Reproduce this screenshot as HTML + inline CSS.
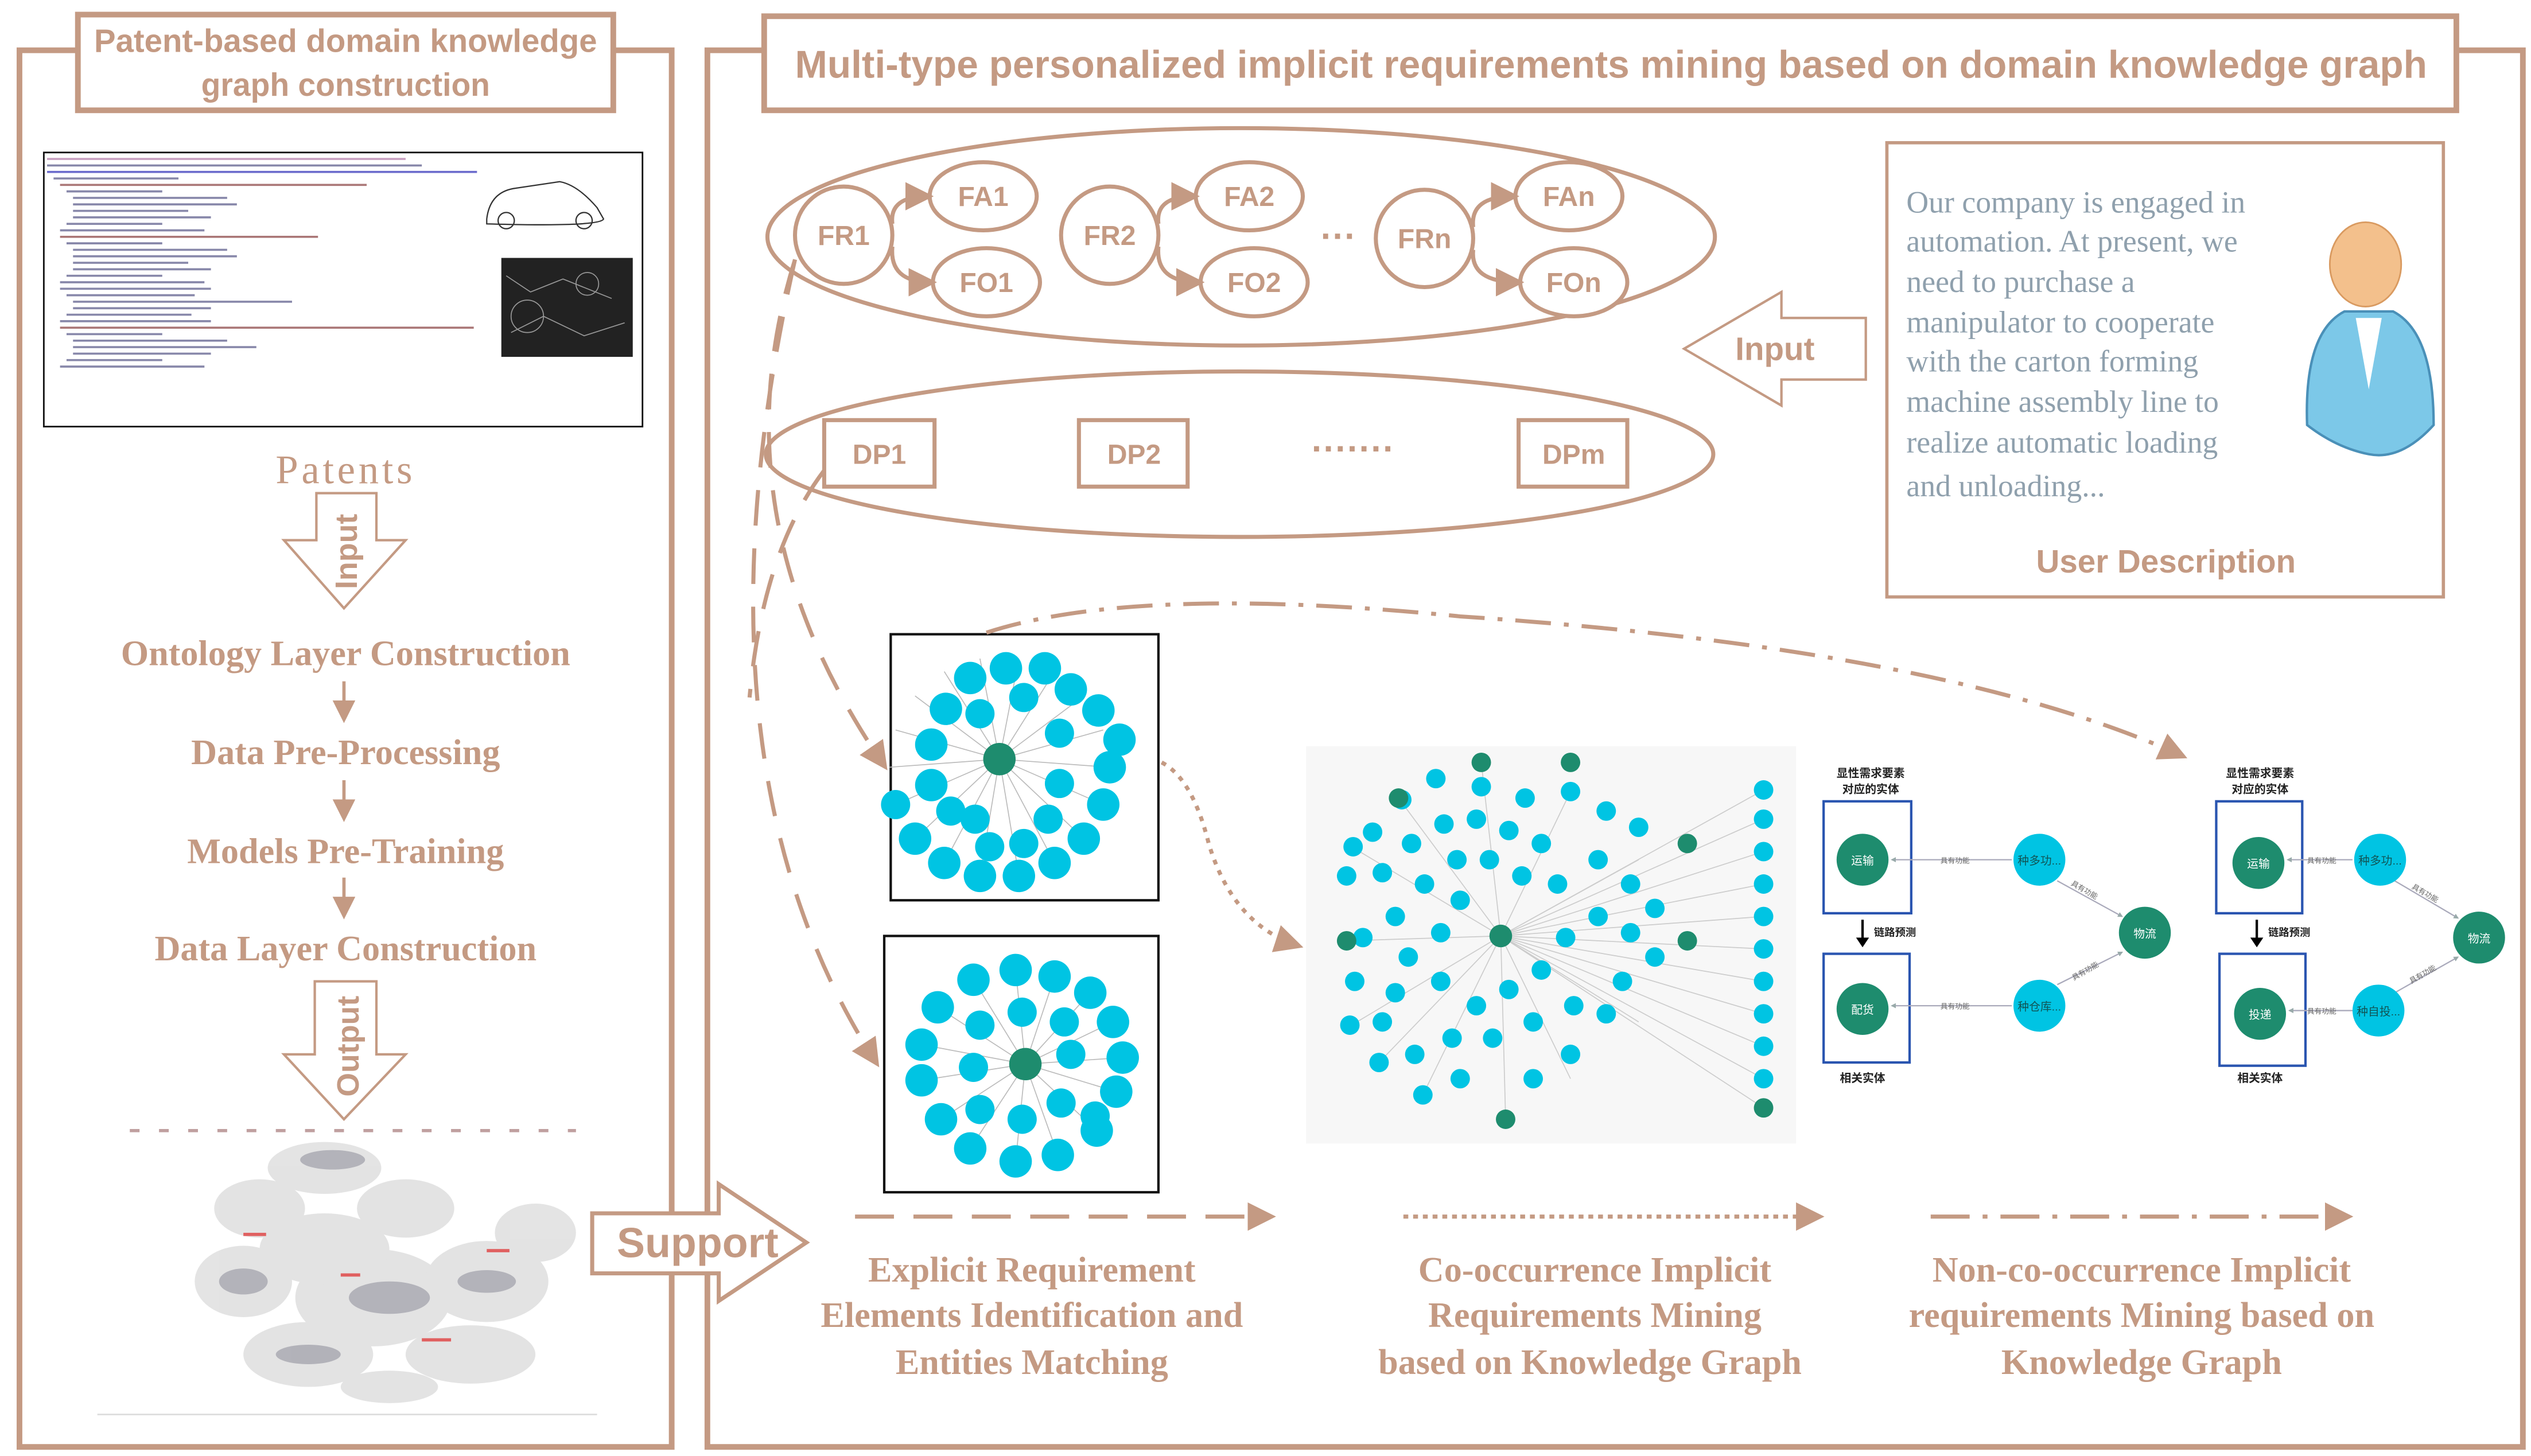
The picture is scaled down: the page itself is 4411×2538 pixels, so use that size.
<!DOCTYPE html>
<html><head><meta charset="utf-8"><style>
html,body{margin:0;padding:0;background:#fff}
svg{display:block}
.b{fill:none;stroke:#c49a83}
.w{fill:#fff !important}
.tt{font-family:"Liberation Sans Narrow","Liberation Sans",sans-serif;font-weight:bold;fill:#c49a83}
.sf{font-family:"Liberation Serif",serif;font-weight:bold;fill:#c49a83}
.cy{fill:#00c4e3}
.gr{fill:#1e8c6e}
.cn{font-family:"Liberation Sans","Noto Sans CJK SC",sans-serif}
</style></head><body>
<svg width="4411" height="2538" viewBox="0 0 1560 897.6" xmlns="http://www.w3.org/2000/svg">
<defs>
<marker id="ah" viewBox="0 0 10 10" refX="8" refY="5" markerWidth="7" markerHeight="7" orient="auto"><path d="M0,0L10,5L0,10z" fill="#c49a83"/></marker>
<marker id="ga" viewBox="0 0 10 10" refX="8" refY="5" markerWidth="4" markerHeight="4" orient="auto"><path d="M0,0L10,5L0,10z" fill="#9aa"/></marker>
</defs>
<!-- LEFT PANEL -->
<rect x="12" y="31" width="402" height="861" class="b" stroke-width="3.5"/>
<rect x="48" y="9" width="330" height="59" class="b w" stroke-width="3.5"/>
<text x="58" y="32" class="tt" font-size="20" textLength="310" lengthAdjust="spacingAndGlyphs">Patent-based domain knowledge</text>
<text x="124" y="59" class="tt" font-size="20" textLength="178" lengthAdjust="spacingAndGlyphs">graph construction</text>
<!-- xml image -->
<rect x="27" y="94" width="369" height="169" fill="#fff" stroke="#111" stroke-width="1"/>
<g stroke="#8888aa" stroke-width="1.3">
<line x1="29" y1="98" x2="250" y2="98" stroke="#c8a0c0"/><line x1="29" y1="102" x2="260" y2="102"/><line x1="29" y1="106" x2="294" y2="106" stroke="#6a6acc"/>
<line x1="33" y1="110" x2="110" y2="110"/><line x1="37" y1="114" x2="226" y2="114" stroke="#aa7777"/><line x1="41" y1="118" x2="100" y2="118"/>
<line x1="45" y1="122" x2="140" y2="122"/><line x1="45" y1="126" x2="146" y2="126"/><line x1="45" y1="130" x2="116" y2="130"/><line x1="45" y1="134" x2="130" y2="134"/>
<line x1="41" y1="138" x2="100" y2="138"/><line x1="37" y1="142" x2="126" y2="142"/><line x1="37" y1="146" x2="196" y2="146" stroke="#aa7777"/>
<line x1="41" y1="150" x2="100" y2="150"/><line x1="45" y1="154" x2="140" y2="154"/><line x1="45" y1="158" x2="146" y2="158"/><line x1="45" y1="162" x2="116" y2="162"/><line x1="45" y1="166" x2="130" y2="166"/>
<line x1="41" y1="170" x2="100" y2="170"/><line x1="37" y1="174" x2="126" y2="174"/><line x1="37" y1="178" x2="130" y2="178"/><line x1="41" y1="182" x2="120" y2="182"/>
<line x1="45" y1="186" x2="180" y2="186"/><line x1="45" y1="190" x2="130" y2="190"/><line x1="41" y1="194" x2="118" y2="194"/><line x1="37" y1="198" x2="130" y2="198"/>
<line x1="37" y1="202" x2="292" y2="202" stroke="#aa7777"/><line x1="41" y1="206" x2="100" y2="206"/><line x1="45" y1="210" x2="140" y2="210"/><line x1="45" y1="214" x2="158" y2="214"/>
<line x1="45" y1="218" x2="130" y2="218"/><line x1="41" y1="222" x2="100" y2="222"/><line x1="37" y1="226" x2="126" y2="226"/>
</g>
<g fill="none" stroke="#333" stroke-width="0.8">
<path d="M300,135 Q302,118 318,116 L345,112 Q356,114 368,128 L372,135 Q370,140 300,138z"/>
<circle cx="312" cy="136" r="5"/><circle cx="360" cy="136" r="5"/>
</g>
<rect x="309" y="159" width="81" height="61" fill="#222"/>
<g stroke="#999" stroke-width="0.6" fill="none"><circle cx="325" cy="195" r="10"/><circle cx="362" cy="175" r="7"/><path d="M312,170 l15,10 l20,-8 l30,12 M315,205 l20,-10 l25,12 l25,-8"/></g>
<text x="213" y="298" text-anchor="middle" font-family="Liberation Serif,serif" font-size="25" fill="#c49a83" letter-spacing="2">Patents</text>
<path d="M195,304 L232,304 L232,333 L250,333 L212,375 L175,333 L195,333Z" class="b w" stroke-width="1.5"/>
<text transform="translate(220,340) rotate(-90)" text-anchor="middle" class="tt" font-size="19">Input</text>
<text x="213" y="410" text-anchor="middle" class="sf" font-size="22">Ontology Layer Construction</text>
<text x="213" y="471" text-anchor="middle" class="sf" font-size="22">Data Pre-Processing</text>
<text x="213" y="532" text-anchor="middle" class="sf" font-size="22">Models Pre-Training</text>
<text x="213" y="592" text-anchor="middle" class="sf" font-size="22">Data Layer Construction</text>
<g stroke="#c49a83" stroke-width="2" marker-end="url(#ah)"><line x1="212" y1="420" x2="212" y2="443"/><line x1="212" y1="481" x2="212" y2="504"/><line x1="212" y1="541" x2="212" y2="564"/></g>
<path d="M194,605 L232,605 L232,650 L250,650 L212,690 L175,650 L194,650Z" class="b w" stroke-width="1.5"/>
<text transform="translate(221,645) rotate(-90)" text-anchor="middle" class="tt" font-size="19">Output</text>
<!-- KG blob -->
<g fill="#d8d8d8" opacity="0.7">
<ellipse cx="200" cy="720" rx="35" ry="16"/><ellipse cx="160" cy="745" rx="28" ry="18"/><ellipse cx="250" cy="745" rx="30" ry="18"/>
<ellipse cx="150" cy="790" rx="30" ry="22"/><ellipse cx="230" cy="800" rx="48" ry="30"/><ellipse cx="300" cy="790" rx="38" ry="25"/>
<ellipse cx="200" cy="770" rx="40" ry="22"/><ellipse cx="190" cy="835" rx="40" ry="20"/><ellipse cx="290" cy="835" rx="40" ry="18"/>
<ellipse cx="330" cy="760" rx="25" ry="18"/><ellipse cx="240" cy="855" rx="30" ry="10"/>
</g>
<g fill="#778" opacity="0.45"><ellipse cx="205" cy="715" rx="20" ry="6"/><ellipse cx="240" cy="800" rx="25" ry="10"/><ellipse cx="150" cy="790" rx="15" ry="8"/><ellipse cx="300" cy="790" rx="18" ry="7"/><ellipse cx="190" cy="835" rx="20" ry="6"/></g>
<g fill="#e06060"><rect x="150" y="760" width="14" height="2"/><rect x="260" y="825" width="18" height="2"/><rect x="210" y="785" width="12" height="2"/><rect x="300" y="770" width="14" height="2"/></g>
<line x1="80" y1="697" x2="355" y2="697" stroke="#c0a0a0" stroke-width="2" stroke-dasharray="6 12"/>
<line x1="60" y1="872" x2="368" y2="872" stroke="#ddd" stroke-width="1"/>
<!-- RIGHT PANEL -->
<rect x="436" y="31" width="1119" height="861" class="b" stroke-width="3.5"/>
<rect x="471" y="10" width="1043" height="58" class="b w" stroke-width="3.5"/>
<text x="490" y="48" class="tt" font-size="24" textLength="1006" lengthAdjust="spacingAndGlyphs">Multi-type personalized implicit requirements mining based on domain knowledge graph</text>
<ellipse cx="765" cy="146" rx="292" ry="67" class="b" stroke-width="2.5"/>
<g class="b w" stroke-width="2.5">
<ellipse cx="520" cy="145" rx="30" ry="30"/><ellipse cx="606" cy="121" rx="33" ry="21"/><ellipse cx="608" cy="174" rx="33" ry="21"/>
<ellipse cx="684" cy="145" rx="30" ry="30"/><ellipse cx="770" cy="121" rx="33" ry="21"/><ellipse cx="773" cy="174" rx="33" ry="21"/>
<ellipse cx="878" cy="147" rx="30" ry="30"/><ellipse cx="967" cy="121" rx="33" ry="21"/><ellipse cx="970" cy="174" rx="33" ry="21"/>
</g>
<g class="b" stroke-width="2.5" marker-end="url(#ah)">
<path d="M550,138 Q548,121 572,121"/><path d="M550,152 Q548,174 574,174"/>
<path d="M714,138 Q712,121 736,121"/><path d="M714,152 Q712,174 739,174"/>
<path d="M908,140 Q906,121 933,121"/><path d="M908,154 Q906,174 936,174"/>
</g>
<g class="tt" font-size="17" text-anchor="middle">
<text x="520" y="151">FR1</text><text x="606" y="127">FA1</text><text x="608" y="180">FO1</text>
<text x="684" y="151">FR2</text><text x="770" y="127">FA2</text><text x="773" y="180">FO2</text>
<text x="878" y="153">FRn</text><text x="967" y="127">FAn</text><text x="970" y="180">FOn</text>
<text x="825" y="153" font-size="22">···</text>
</g>
<path d="M1150,196 L1098,196 L1098,180 L1038,215 L1098,250 L1098,234 L1150,234Z" class="b w" stroke-width="1.5"/>
<text x="1094" y="222" text-anchor="middle" class="tt" font-size="20">Input</text>
<ellipse cx="764" cy="280" rx="292" ry="51" class="b" stroke-width="2.5"/>
<g class="b w" stroke-width="2.5"><rect x="508" y="259" width="68" height="41"/><rect x="665" y="259" width="67" height="41"/><rect x="936" y="259" width="67" height="41"/></g>
<g class="tt" font-size="17" text-anchor="middle"><text x="542" y="286">DP1</text><text x="699" y="286">DP2</text><text x="970" y="286">DPm</text><text x="834" y="284" font-size="22">·······</text></g>
<rect x="1163" y="88" width="343" height="280" class="b w" stroke-width="2"/>
<g font-family="Liberation Serif,serif" font-size="19" fill="#8fa0ad">
<text x="1175" y="131">Our company is engaged in</text><text x="1175" y="155">automation. At present, we</text>
<text x="1175" y="180">need to purchase a</text><text x="1175" y="205">manipulator to cooperate</text>
<text x="1175" y="229">with the carton forming</text><text x="1175" y="254">machine assembly line to</text>
<text x="1175" y="279">realize automatic loading</text><text x="1175" y="306">and unloading...</text>
</g>
<text x="1335" y="353" text-anchor="middle" class="tt" font-size="20">User Description</text>
<path d="M1422,262 Q1420,205 1445,192 L1475,192 Q1500,205 1500,262 Q1480,284 1460,280 Q1440,276 1422,262Z" fill="#7cc8e8" stroke="#4a90b8" stroke-width="1.5"/>
<path d="M1452,196 L1460,240 L1468,196Z" fill="#fff"/>
<ellipse cx="1458" cy="163" rx="22" ry="26" fill="#f3c08c" stroke="#d99a60"/>
<!-- graph 1 -->
<rect x="549" y="391" width="165" height="164" fill="#fff" stroke="#111" stroke-width="1.5"/>
<g stroke="#bbb" stroke-width="0.6">
<path d="M616,468 L684,473 M616,468 L680,496 M616,468 L668,517 M616,468 L650,532 M616,468 L628,540 M616,468 L604,540 M616,468 L582,532 M616,468 L564,517 M616,468 L552,496 M616,468 L548,473 M616,468 L552,450 M616,468 L564,429 M616,468 L582,414 M616,468 L604,406 M616,468 L628,406 M616,468 L650,414 M616,468 L668,429 M616,468 L680,450"/>
</g>
<g class="cy">
<circle cx="684" cy="473" r="10"/><circle cx="680" cy="496" r="10"/><circle cx="668" cy="517" r="10"/><circle cx="650" cy="532" r="10"/><circle cx="628" cy="540" r="10"/><circle cx="604" cy="540" r="10"/><circle cx="582" cy="532" r="10"/><circle cx="564" cy="517" r="10"/><circle cx="552" cy="496" r="9"/><circle cx="574" cy="484" r="10"/><circle cx="574" cy="459" r="10"/><circle cx="583" cy="437" r="10"/><circle cx="598" cy="418" r="10"/><circle cx="620" cy="412" r="10"/><circle cx="644" cy="412" r="10"/><circle cx="660" cy="425" r="10"/><circle cx="677" cy="438" r="10"/><circle cx="690" cy="456" r="10"/>
<circle cx="653" cy="483" r="9"/><circle cx="646" cy="505" r="9"/><circle cx="631" cy="520" r="9"/><circle cx="601" cy="505" r="9"/><circle cx="586" cy="500" r="9"/><circle cx="604" cy="440" r="9"/><circle cx="631" cy="430" r="9"/><circle cx="653" cy="452" r="9"/><circle cx="610" cy="522" r="9"/>
</g>
<circle cx="616" cy="468" r="10" class="gr"/>
<!-- graph 2 -->
<rect x="545" y="577" width="169" height="158" fill="#fff" stroke="#111" stroke-width="1.5"/>
<g stroke="#bbb" stroke-width="0.6">
<path d="M632,656 L692,652 M632,656 L688,673 M632,656 L676,697 M632,656 L652,712 M632,656 L626,716 M632,656 L598,708 M632,656 L580,690 M632,656 L568,666 M632,656 L568,644 M632,656 L578,621 M632,656 L600,604 M632,656 L626,598 M632,656 L650,602 M632,656 L672,612 M632,656 L686,630"/>
</g>
<g class="cy">
<circle cx="692" cy="652" r="10"/><circle cx="688" cy="673" r="10"/><circle cx="676" cy="697" r="10"/><circle cx="652" cy="712" r="10"/><circle cx="626" cy="716" r="10"/><circle cx="598" cy="708" r="10"/><circle cx="580" cy="690" r="10"/><circle cx="568" cy="666" r="10"/><circle cx="568" cy="644" r="10"/><circle cx="578" cy="621" r="10"/><circle cx="600" cy="604" r="10"/><circle cx="626" cy="598" r="10"/><circle cx="650" cy="602" r="10"/><circle cx="672" cy="612" r="10"/><circle cx="686" cy="630" r="10"/>
<circle cx="660" cy="650" r="9"/><circle cx="654" cy="680" r="9"/><circle cx="630" cy="690" r="9"/><circle cx="604" cy="684" r="9"/><circle cx="600" cy="658" r="9"/><circle cx="604" cy="632" r="9"/><circle cx="630" cy="624" r="9"/><circle cx="656" cy="630" r="9"/><circle cx="675" cy="688" r="9"/>
</g>
<circle cx="632" cy="656" r="10" class="gr"/>
<!-- big graph -->
<rect x="805" y="460" width="302" height="245" fill="#f7f7f7"/>
<g stroke="#ccc" stroke-width="0.6">
<path d="M925,577 L1087,487 M925,577 L1087,505 M925,577 L1087,525 M925,577 L1087,545 M925,577 L1087,565 M925,577 L1087,585 M925,577 L1087,605 M925,577 L1087,625 M925,577 L1087,645 M925,577 L1087,665 M925,577 L1087,683 M925,577 L913,470 M925,577 L862,492 M925,577 L833,522 M925,577 L830,580 M925,577 L833,632 M925,577 L850,655 M925,577 L877,675 M925,577 L928,690 M925,577 L968,665 M925,577 L1010,630 M925,577 L1010,530 M925,577 L968,488"/>
</g>
<g class="cy">
<circle cx="913" cy="485" r="6"/><circle cx="940" cy="492" r="6"/><circle cx="885" cy="480" r="6"/><circle cx="864" cy="493" r="6"/><circle cx="846" cy="513" r="6"/><circle cx="834" cy="522" r="6"/><circle cx="830" cy="540" r="6"/><circle cx="852" cy="538" r="6"/><circle cx="870" cy="520" r="6"/><circle cx="890" cy="508" r="6"/><circle cx="910" cy="505" r="6"/><circle cx="930" cy="512" r="6"/><circle cx="950" cy="520" r="6"/><circle cx="968" cy="488" r="6"/><circle cx="990" cy="500" r="6"/><circle cx="1010" cy="510" r="6"/>
<circle cx="878" cy="545" r="6"/><circle cx="898" cy="530" r="6"/><circle cx="918" cy="530" r="6"/><circle cx="938" cy="540" r="6"/><circle cx="960" cy="545" r="6"/><circle cx="985" cy="530" r="6"/><circle cx="1005" cy="545" r="6"/><circle cx="1020" cy="560" r="6"/><circle cx="1005" cy="575" r="6"/><circle cx="1020" cy="590" r="6"/><circle cx="1000" cy="605" r="6"/><circle cx="985" cy="565" r="6"/><circle cx="965" cy="578" r="6"/><circle cx="950" cy="598" r="6"/>
<circle cx="860" cy="565" r="6"/><circle cx="840" cy="578" r="6"/><circle cx="868" cy="590" r="6"/><circle cx="888" cy="575" r="6"/><circle cx="900" cy="555" r="6"/><circle cx="888" cy="605" r="6"/><circle cx="860" cy="612" r="6"/><circle cx="835" cy="605" r="6"/><circle cx="832" cy="632" r="6"/><circle cx="852" cy="630" r="6"/><circle cx="850" cy="655" r="6"/><circle cx="877" cy="675" r="6"/><circle cx="895" cy="640" r="6"/><circle cx="910" cy="620" r="6"/><circle cx="930" cy="610" r="6"/><circle cx="920" cy="640" r="6"/><circle cx="945" cy="630" r="6"/><circle cx="970" cy="620" r="6"/><circle cx="990" cy="625" r="6"/><circle cx="968" cy="650" r="6"/><circle cx="945" cy="665" r="6"/><circle cx="900" cy="665" r="6"/><circle cx="872" cy="650" r="6"/>
<circle cx="1087" cy="487" r="6"/><circle cx="1087" cy="505" r="6"/><circle cx="1087" cy="525" r="6"/><circle cx="1087" cy="545" r="6"/><circle cx="1087" cy="565" r="6"/><circle cx="1087" cy="585" r="6"/><circle cx="1087" cy="605" r="6"/><circle cx="1087" cy="625" r="6"/><circle cx="1087" cy="645" r="6"/><circle cx="1087" cy="665" r="6"/>
</g>
<g class="gr"><circle cx="925" cy="577" r="7"/><circle cx="913" cy="470" r="6"/><circle cx="862" cy="492" r="6"/><circle cx="830" cy="580" r="6"/><circle cx="928" cy="690" r="6"/><circle cx="1087" cy="683" r="6"/><circle cx="968" cy="470" r="6"/><circle cx="1040" cy="580" r="6"/><circle cx="1040" cy="520" r="6"/></g>
<!-- chinese panels -->
<g class="cn" font-size="7" font-weight="bold" fill="#222" text-anchor="middle">
<text x="1153" y="479">显性需求要素</text><text x="1153" y="489">对应的实体</text><text x="1148" y="667">相关实体</text><text x="1168" y="577" font-size="6.5">链路预测</text>
<text x="1393" y="479">显性需求要素</text><text x="1393" y="489">对应的实体</text><text x="1393" y="667">相关实体</text><text x="1411" y="577" font-size="6.5">链路预测</text>
</g>
<g fill="none" stroke="#2a55b0" stroke-width="1.5">
<rect x="1124" y="494" width="54" height="69"/><rect x="1124" y="588" width="53" height="67"/>
<rect x="1366" y="494" width="53" height="69"/><rect x="1368" y="588" width="53" height="69"/>
</g>
<g stroke="#000" stroke-width="1.5"><line x1="1148" y1="567" x2="1148" y2="580"/><line x1="1391" y1="567" x2="1391" y2="580"/></g>
<path d="M1144,578 L1152,578 L1148,584Z M1387,578 L1395,578 L1391,584Z" fill="#000"/>
<g stroke="#aab" stroke-width="0.8" marker-end="url(#ga)">
<line x1="1240" y1="530" x2="1166" y2="530"/><line x1="1240" y1="620" x2="1166" y2="620"/>
<line x1="1268" y1="543" x2="1308" y2="565"/><line x1="1268" y1="607" x2="1308" y2="587"/>
<line x1="1450" y1="530" x2="1410" y2="530"/><line x1="1450" y1="623" x2="1411" y2="623"/>
<line x1="1476" y1="543" x2="1515" y2="566"/><line x1="1476" y1="612" x2="1515" y2="590"/>
</g>
<g class="cn" font-size="4.5" fill="#666" text-anchor="middle">
<text x="1205" y="532">具有功能</text><text x="1205" y="622">具有功能</text><text x="1284" y="550" transform="rotate(30 1284 550)">具有功能</text><text x="1286" y="600" transform="rotate(-30 1286 600)">具有功能</text>
<text x="1431" y="532">具有功能</text><text x="1431" y="625">具有功能</text><text x="1494" y="552" transform="rotate(30 1494 552)">具有功能</text><text x="1494" y="602" transform="rotate(-30 1494 602)">具有功能</text>
</g>
<g class="gr"><circle cx="1148" cy="530" r="16"/><circle cx="1148" cy="622" r="16"/><circle cx="1322" cy="575" r="16"/><circle cx="1392" cy="532" r="16"/><circle cx="1393" cy="625" r="16"/><circle cx="1528" cy="578" r="16"/></g>
<g class="cy"><circle cx="1257" cy="530" r="16"/><circle cx="1257" cy="620" r="16"/><circle cx="1467" cy="530" r="16"/><circle cx="1466" cy="623" r="16"/></g>
<g class="cn" font-size="7" fill="#fff" text-anchor="middle">
<text x="1148" y="533">运输</text><text x="1148" y="625">配货</text><text x="1322" y="578">物流</text><text x="1257" y="533" fill="#155">种多功...</text><text x="1257" y="623" fill="#155">种仓库...</text>
<text x="1392" y="535">运输</text><text x="1393" y="628">投递</text><text x="1528" y="581">物流</text><text x="1467" y="533" fill="#155">种多功...</text><text x="1466" y="626" fill="#155">种自投...</text>
</g>
<!-- connectors -->
<g class="b" stroke-width="2.5">
<path d="M490,160 Q440,320 545,472" stroke-dasharray="22 14" marker-end="url(#ah)"/>
<path d="M490,160 Q420,470 540,655" stroke-dasharray="22 14" marker-end="url(#ah)"/>
<path d="M508,290 Q470,340 462,430" stroke-dasharray="22 14"/>
<path d="M716,470 Q735,480 745,520 Q760,570 800,583" stroke-dasharray="3 4" marker-end="url(#ah)"/>
<path d="M608,390 Q700,360 900,380 Q1200,400 1345,466" stroke-dasharray="22 8 3 8" marker-end="url(#ah)"/>
</g>
<path d="M365,748 L443,748 L443,730 L497,766 L443,802 L443,785 L365,785Z" class="b w" stroke-width="2.5"/>
<text x="430" y="775" text-anchor="middle" class="tt" font-size="26">Support</text>
<g class="b" stroke-width="2.5" marker-end="url(#ah)">
<line x1="527" y1="750" x2="783" y2="750" stroke-dasharray="24 12"/>
<line x1="865" y1="750" x2="1121" y2="750" stroke-dasharray="3 3"/>
<line x1="1190" y1="750" x2="1447" y2="750" stroke-dasharray="24 8 3 8"/>
</g>
<g class="sf" font-size="22" text-anchor="middle">
<text x="636" y="790">Explicit Requirement</text><text x="636" y="818">Elements Identification and</text><text x="636" y="847">Entities Matching</text>
<text x="983" y="790">Co-occurrence Implicit</text><text x="983" y="818">Requirements Mining</text><text x="980" y="847">based on Knowledge Graph</text>
<text x="1320" y="790">Non-co-occurrence Implicit</text><text x="1320" y="818">requirements Mining based on</text><text x="1320" y="847">Knowledge Graph</text>
</g>
</svg>
</body></html>
